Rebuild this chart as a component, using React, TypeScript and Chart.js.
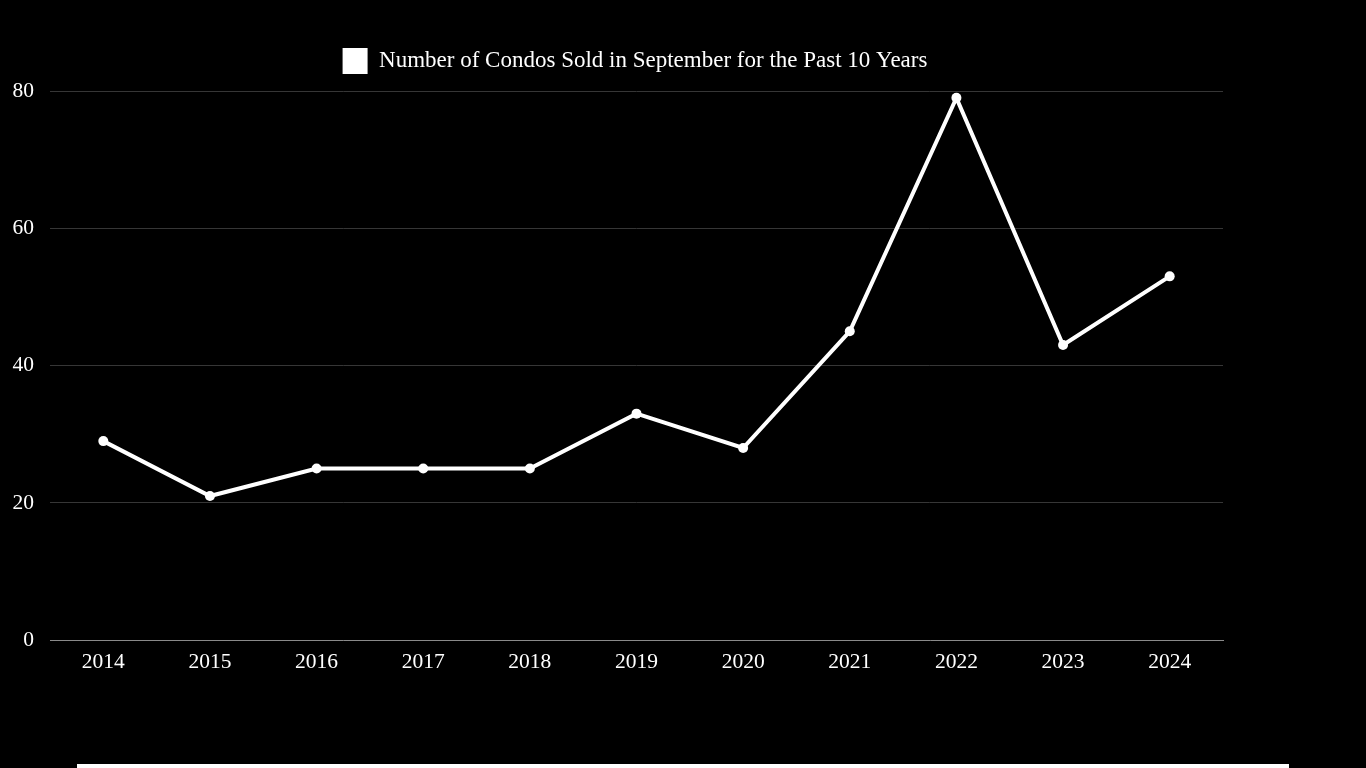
import React, { useEffect, useRef } from "react";
import { Chart, registerables } from "chart.js";

Chart.register(...registerables);

const years = ["2014", "2015", "2016", "2017", "2018", "2019", "2020", "2021", "2022", "2023", "2024"];
const condosSold = [29, 21, 25, 25, 25, 33, 28, 45, 79, 43, 53];
const seriesLabel = "Number of Condos Sold in September for the Past 10 Years";

export default function App() {
  const ref = useRef<HTMLCanvasElement | null>(null);

  useEffect(() => {
    document.body.style.margin = "0";
    document.body.style.background = "#000";
    const family = "'Liberation Serif', 'Times New Roman', serif";
    const tickFont = { family, size: 21.5 };
    const legendFont = { family, size: 23 };
    const legendGap = {
      id: "legendGap",
      beforeInit(chart: any) {
        const lg = chart.legend;
        if (!lg) return;
        const orig = lg.fit;
        lg.fit = function () {
          orig.call(this);
          this.height += 7;
        };
      },
    };
    const chart = new Chart(ref.current!, {
      type: "line",
      data: {
        labels: years,
        datasets: [
          {
            label: seriesLabel,
            data: condosSold,
            borderColor: "#ffffff",
            backgroundColor: "#ffffff",
            borderWidth: 4,
            pointRadius: 5,
            pointBackgroundColor: "#ffffff",
            pointBorderColor: "#ffffff",
            pointBorderWidth: 0,
            tension: 0,
          },
        ],
      },
      plugins: [legendGap],
      options: {
        animation: false,
        responsive: true,
        maintainAspectRatio: false,
        layout: { padding: { top: 38, left: 0, right: 0, bottom: 20 } },
        plugins: {
          legend: {
            display: true,
            position: "top",
            labels: {
              color: "#ffffff",
              font: legendFont,
              boxWidth: 25,
              boxHeight: 26,
              generateLabels: (c: any) =>
                c.data.datasets.map((d: any, i: number) => ({
                  text: d.label,
                  fillStyle: "#ffffff",
                  strokeStyle: "#ffffff",
                  lineWidth: 0,
                  fontColor: "#ffffff",
                  hidden: false,
                  datasetIndex: i,
                })),
            },
          },
          tooltip: { enabled: false },
        },
        scales: {
          x: {
            offset: true,
            grid: { display: false, drawTicks: false },
            border: { display: true, color: "#8a8a8a", width: 1 },
            ticks: { color: "#ffffff", font: tickFont, padding: 9 },
          },
          y: {
            min: 0,
            max: 80,
            ticks: { stepSize: 20, color: "#ffffff", font: tickFont, padding: 16 },
            grid: { color: "#363636", drawTicks: false },
            border: { display: false },
            afterFit: (s: any) => {
              s.width = 50;
            },
          },
          yr: {
            position: "right",
            display: true,
            grid: { display: false, drawTicks: false },
            border: { display: false },
            ticks: { display: false },
            afterFit: (s: any) => {
              s.width = 47;
            },
          },
        },
      },
    });
    return () => chart.destroy();
  }, []);

  return (
    <div style={{ position: "relative", width: 1366, height: 768, background: "#000", overflow: "hidden" }}>
      <div style={{ position: "absolute", left: 0, top: 0, width: 1270, height: 704 }}>
        <canvas ref={ref} />
      </div>
      <div style={{ position: "absolute", left: 77, top: 764, width: 1212, height: 10, background: "#ffffff" }} />
    </div>
  );
}
